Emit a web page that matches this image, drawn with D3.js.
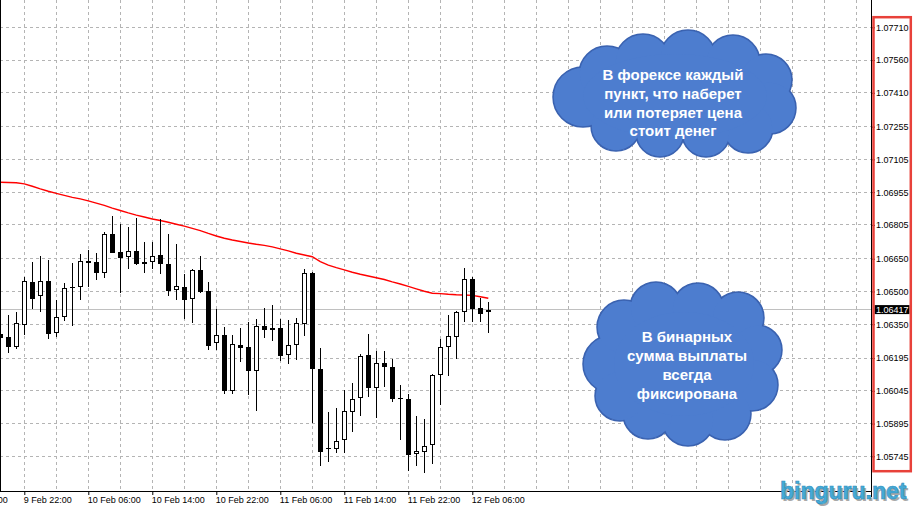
<!DOCTYPE html>
<html><head><meta charset="utf-8">
<script src="https://cdn.jsdelivr.net/npm/d3@7"></script>
<style>html,body{margin:0;padding:0;background:#fff;overflow:hidden}</style>
</head><body><svg id="c" width="913" height="507"></svg>
<script>
// ---- data (EURUSD H1) ----
const openP=[1.06305,1.06290,1.06247,1.06345,1.06544,1.06478,1.06547,1.06311,1.06385,1.06519,1.06519,1.06640,1.06634,1.06586,1.06762,1.06681,1.06656,1.06686,1.06625,1.06634,1.06666,1.06625,1.06506,1.06521,1.06467,1.06597,1.06502,1.06263,1.06299,1.06043,1.06254,1.06246,1.06135,1.06341,1.06322,1.06333,1.06208,1.06254,1.06350,1.06583,1.06145,1.05779,1.05780,1.05819,1.05947,1.06011,1.06208,1.06060,1.06171,1.06153,1.06011,1.06008,1.05754,1.05766,1.05796,1.06116,1.06245,1.06290,1.06405,1.06557,1.06423,1.06405];
const highP=[1.06310,1.06392,1.06408,1.06566,1.06634,1.06663,1.06644,1.06461,1.06538,1.06629,1.06670,1.06690,1.06675,1.06771,1.06846,1.06807,1.06796,1.06837,1.06728,1.06728,1.06833,1.06763,1.06716,1.06580,1.06603,1.06663,1.06542,1.06420,1.06337,1.06301,1.06333,1.06362,1.06374,1.06423,1.06438,1.06373,1.06369,1.06377,1.06604,1.06587,1.06240,1.05947,1.05965,1.06048,1.06080,1.06214,1.06305,1.06228,1.06228,1.06191,1.06072,1.06031,1.05930,1.05916,1.06121,1.06283,1.06392,1.06409,1.06606,1.06566,1.06470,1.06452];
const lowP=[1.06283,1.06217,1.06237,1.06301,1.06420,1.06408,1.06283,1.06293,1.06365,1.06343,1.06461,1.06522,1.06554,1.06563,1.06674,1.06495,1.06605,1.06621,1.06586,1.06604,1.06580,1.06479,1.06460,1.06374,1.06357,1.06495,1.06234,1.06234,1.06029,1.06029,1.06179,1.06026,1.05954,1.06286,1.06275,1.06183,1.06169,1.06188,1.06298,1.05896,1.05702,1.05721,1.05759,1.05762,1.05858,1.05931,1.06016,1.05919,1.06064,1.05995,1.05819,1.05679,1.05699,1.05667,1.05709,1.05980,1.06114,1.06190,1.06362,1.06362,1.06362,1.06311];
const closeP=[1.06289,1.06247,1.06354,1.06547,1.06467,1.06547,1.06307,1.06382,1.06515,1.06522,1.06638,1.06631,1.06586,1.06762,1.06678,1.06652,1.06686,1.06627,1.06635,1.06664,1.06627,1.06502,1.06525,1.06462,1.06597,1.06498,1.06252,1.06299,1.06043,1.06258,1.06243,1.06135,1.06341,1.06325,1.06332,1.06206,1.06254,1.06354,1.06583,1.06147,1.05766,1.05782,1.05814,1.05951,1.06006,1.06205,1.06060,1.06171,1.06156,1.06009,1.06009,1.05750,1.05768,1.05791,1.06118,1.06245,1.06298,1.06406,1.06556,1.06420,1.06398,1.06417];
const maP=[1.07000,1.06999,1.06998,1.06993,1.06982,1.06970,1.06959,1.06949,1.06940,1.06931,1.06924,1.06915,1.06905,1.06894,1.06882,1.06871,1.06860,1.06850,1.06841,1.06832,1.06825,1.06817,1.06808,1.06799,1.06789,1.06779,1.06766,1.06754,1.06744,1.06736,1.06729,1.06722,1.06716,1.06711,1.06704,1.06695,1.06686,1.06675,1.06667,1.06659,1.06637,1.06621,1.06609,1.06599,1.06588,1.06579,1.06571,1.06563,1.06555,1.06544,1.06534,1.06523,1.06512,1.06501,1.06492,1.06490,1.06487,1.06485,1.06484,1.06482,1.06476,1.06469];
const priceTicks=[1.07710,1.07560,1.07410,1.07255,1.07105,1.06955,1.06805,1.06650,1.06500,1.06350,1.06195,1.06045,1.05895,1.05745];
const timeTickIdx=[-5,3,11,19,27,35,43,51,59];
const timeTickLabels=["9 Feb 14:00","9 Feb 22:00","10 Feb 06:00","10 Feb 14:00","10 Feb 22:00","11 Feb 06:00","11 Feb 14:00","11 Feb 22:00","12 Feb 06:00"];
const currentPrice=1.06417;
const cloud1Text=["В форексе каждый","пункт, что наберет","или потеряет цена","стоит денег"];
const cloud2Text=["В бинарных","сумма выплаты","всегда","фиксирована"];
const watermark="binguru.net";

// ---- drawing ----
const svg=d3.select("#c");
const FONT="'Liberation Sans', Arial, sans-serif";
const plotRight=871, plotBottom=491;
const x=d3.scaleLinear().domain([0,61]).range([0.3,488.3]);
const y=d3.scaleLinear().domain([1.07710,1.05745]).range([27.3,456.3]);
const px=v=>Math.floor(x(v))+0.5;
const py=v=>Math.floor(y(v))+0.5;

svg.append("rect").attr("width",913).attr("height",507).attr("fill","#fff");
svg.append("clipPath").attr("id","clip").append("rect").attr("x",0).attr("y",0).attr("width",plotRight).attr("height",plotBottom);
const g=svg.append("g").attr("clip-path","url(#clip)");

// grid
const gridIdx=d3.range(3,112,4);
g.selectAll(".vg").data(gridIdx).join("line")
  .attr("x1",d=>px(d)).attr("x2",d=>px(d)).attr("y1",0).attr("y2",plotBottom)
  .attr("stroke","#b4b4b4").attr("stroke-dasharray","3,3").attr("shape-rendering","crispEdges");
g.selectAll(".hg").data(priceTicks).join("line")
  .attr("x1",0).attr("x2",plotRight).attr("y1",d=>py(d)).attr("y2",d=>py(d))
  .attr("stroke","#b4b4b4").attr("stroke-dasharray","3,3").attr("shape-rendering","crispEdges");

// current price line
g.append("line").attr("x1",0).attr("x2",plotRight).attr("y1",py(currentPrice)).attr("y2",py(currentPrice))
  .attr("stroke","#c0c0c0").attr("shape-rendering","crispEdges");

// MA line
g.append("path").datum(maP)
  .attr("d",d3.line().x((d,i)=>x(i)).y(d=>y(d)))
  .attr("fill","none").attr("stroke","#ff0000").attr("stroke-width",1.4);

// candles
const idx=d3.range(openP.length);
const cg=g.append("g").attr("shape-rendering","crispEdges");
cg.selectAll(".wick").data(idx).join("line")
  .attr("x1",i=>px(i)).attr("x2",i=>px(i))
  .attr("y1",i=>y(highP[i])).attr("y2",i=>y(lowP[i]))
  .attr("stroke","#000").attr("stroke-width",1);
cg.selectAll(".body").data(idx).join("rect")
  .each(function(i){
    const o=openP[i], c=closeP[i];
    const top=Math.round(y(Math.max(o,c))), bot=Math.round(y(Math.min(o,c)));
    const cx=Math.floor(x(i));
    const s=d3.select(this);
    if(c<o){ // bearish: filled black
      s.attr("x",cx-2).attr("width",5).attr("y",top).attr("height",Math.max(1,bot-top)).attr("fill","#000");
    } else {
      s.attr("x",cx-1.5).attr("width",4).attr("y",top+0.5).attr("height",Math.max(0.01,bot-top-1))
       .attr("fill","#fff").attr("stroke","#000").attr("stroke-width",1);
    }
  });

// left border
svg.append("line").attr("x1",0.5).attr("x2",0.5).attr("y1",0).attr("y2",plotBottom).attr("stroke","#000").attr("shape-rendering","crispEdges");

// right axis
const ra=svg.append("g").attr("transform",`translate(${plotRight},0)`)
  .call(d3.axisRight(y).tickValues(priceTicks).tickSize(4).tickPadding(1).tickFormat(d3.format(".5f")));
ra.select(".domain").remove();
ra.selectAll("text").attr("font-family",FONT).attr("font-size",9).attr("fill","#000");
ra.selectAll("line").attr("stroke","#000");

// bottom axis
const ba=svg.append("g").attr("transform",`translate(0,${plotBottom})`)
  .call(d3.axisBottom(x).tickValues(timeTickIdx).tickSize(4).tickFormat((d,i)=>timeTickLabels[i]));
ba.select(".domain").remove();
ba.selectAll("text").attr("font-family",FONT).attr("font-size",9).attr("fill","#000")
  .attr("text-anchor","start").attr("x",-1).attr("y",6);
ba.selectAll("line").attr("stroke","#000");

// axis lines
svg.append("line").attr("x1",0).attr("x2",plotRight+0.5).attr("y1",plotBottom+0.5).attr("y2",plotBottom+0.5).attr("stroke","#000").attr("shape-rendering","crispEdges");
svg.append("line").attr("x1",plotRight+0.5).attr("x2",plotRight+0.5).attr("y1",0).attr("y2",497).attr("stroke","#000").attr("shape-rendering","crispEdges");

// current price label
const cpy=y(currentPrice);
svg.append("rect").attr("x",874.5).attr("y",cpy-4.5).attr("width",35).attr("height",9).attr("fill","#000");
svg.append("text").attr("x",876).attr("y",cpy).attr("dy","0.34em").attr("font-family",FONT).attr("font-size",9)
  .attr("fill","#fff").text(d3.format(".5f")(currentPrice));

// red highlight box
svg.append("rect").attr("x",873.5).attr("y",17.2).attr("width",37.3).attr("height",454)
  .attr("fill","none").attr("stroke","#e8413a").attr("stroke-width",2.5);

// clouds
function cloud(circles, ell, lines, cx, y0, dy){
  const cg=svg.append("g");
  cg.selectAll(".o").data(circles).join("circle").attr("cx",d=>d[0]).attr("cy",d=>d[1]).attr("r",d=>d[2])
    .attr("fill","#3a62b0").attr("stroke","#3a62b0").attr("stroke-width",1.5);
  cg.selectAll(".i").data(circles).join("circle").attr("cx",d=>d[0]).attr("cy",d=>d[1]).attr("r",d=>d[2]-0.8)
    .attr("fill","#4d7dcf");
  cg.append("ellipse").attr("cx",ell[0]).attr("cy",ell[1]).attr("rx",ell[2]).attr("ry",ell[3]).attr("fill","#4d7dcf");
  cg.selectAll("text").data(lines).join("text").attr("x",cx).attr("y",(d,i)=>y0+i*dy).attr("dy","0.35em")
    .attr("text-anchor","middle").attr("font-family",FONT).attr("font-weight","bold").attr("font-size",15)
    .attr("fill","#fff").text(d=>d);
}
cloud([[583,97,30],[607,74,28],[643,62,28],[688,58,28],[733,62,27],[766,80,26],[770,108,26],[748,128,25],[706,133,24],[660,133,24],[616,126,25]],
  [675,96,92,42], cloud1Text, 673, 75, 18.7);
cloud([[612,364,29],[624,327,27],[656,308,26],[698,309,26],[738,318,26],[757,350,25],[752,385,26],[725,414,26],[688,420,26],[648,414,25],[620,396,25]],
  [684,364,70,52], cloud2Text, 687, 337, 19);

// watermark
svg.append("text").attr("x",782).attr("y",501).attr("font-family",FONT).attr("font-weight","bold").attr("font-size",23)
  .attr("fill","#a9a9a9").text(watermark);
svg.append("text").attr("x",780).attr("y",499).attr("font-family",FONT).attr("font-weight","bold").attr("font-size",23)
  .attr("fill","#45aad6").attr("stroke","#2f8fbd").attr("stroke-width",0.6).text(watermark);
</script></body></html>
